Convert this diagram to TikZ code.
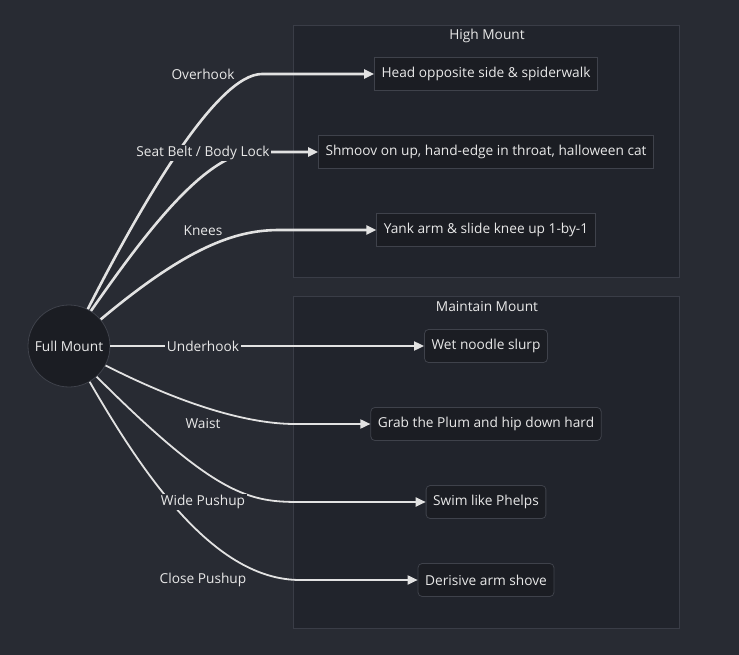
\documentclass[tikz,border=0pt]{standalone}
\usepackage{fontspec}
\setmainfont{Open Sans}
\usetikzlibrary{positioning}
\usetikzlibrary{arrows.meta}
\definecolor{canvas}{HTML}{282B33}
\definecolor{clusterbg}{HTML}{21242C}
\definecolor{clusterline}{HTML}{3A3D47}
\definecolor{boxbg}{HTML}{1B1D23}
\definecolor{boxline}{HTML}{3F424B}
\definecolor{wire}{HTML}{E2E2E2}
\definecolor{ink}{HTML}{E8E8E8}

\begin{document}
\begin{tikzpicture}[
                x=1pt, y=-1pt,
                >={Triangle[length=10pt,width=9pt]},
                font=\fontsize{13.7}{16}\selectfont,
                % Define styles for nodes
                cluster/.style={draw=clusterline, fill=clusterbg, line width=0.8pt},
                move/.style={draw=boxline, fill=boxbg, text=ink, inner xsep=7pt, minimum height=33pt, line width=0.8pt},
                keep/.style={move, rounded corners=4pt},
                hold/.style={circle, draw=boxline, fill=boxbg, text=ink, minimum size=82pt, inner sep=0pt, line width=0.8pt},
                grip/.style={fill=canvas, text=ink, inner sep=1.5pt},
                edge/.style={->, draw=wire, line width=2.6pt},
                thin edge/.style={->, draw=wire, line width=1.8pt}
            ]
                \useasboundingbox (0,0) rectangle (739,655);
                \fill[canvas] (0,0) rectangle (739,655);

                % Clusters
                \draw[cluster] (293,25) rectangle (679,277);
                \draw[cluster] (293,296) rectangle (679,628);
                \node[text=ink] (highT) at (487,36) {High Mount};
                \node[text=ink] (keepT) at (487,307) {Maintain Mount};

                % Define nodes
                \node[hold] (fm) at (69,346) {Full Mount};

                \node[move] (head) at (486,74) {Head opposite side \& spiderwalk};
                \node[move] (shmoov) at (486,152) {Shmoov on up, hand-edge in throat, halloween cat};
                \node[move] (yank) at (486,230) {Yank arm \& slide knee up 1-by-1};

                \node[keep] (noodle) at (486,346) {Wet noodle slurp};
                \node[keep] (plum) at (486,424) {Grab the Plum and hip down hard};
                \node[keep] (swim) at (486,502) {Swim like Phelps};
                \node[keep] (shove) at (486,580) {Derisive arm shove};

                % Bend points where the curves flatten out (y axis points down here)
                \coordinate (b1) at (262,74);
                \coordinate (b2) at (255,152);
                \coordinate (b3) at (280,230);
                \coordinate (b5) at (295,424);
                \coordinate (b6) at (300,502);
                \coordinate (b7) at (300,580);

                % Draw connections
                \draw[edge] (fm.63) .. controls +(-63:120) and +(-45,0) .. (b1) -- (head);
                \draw[edge] (fm.58) .. controls +(-55:90) and +(-50,0) .. (b2) -- (shmoov);
                \draw[edge] (fm.40) .. controls +(-40:120) and +(-40,0) .. (b3) -- (yank);
                \draw[thin edge] (fm) -- (noodle);
                \draw[thin edge] (fm.-28) .. controls +(27:90) and +(-45,0) .. (b5) -- (plum);
                \draw[thin edge] (fm.-48) .. controls +(45:170) and +(-50,0) .. (b6) -- (swim);
                \draw[thin edge] (fm.-60) .. controls +(60:110) and +(-85,0) .. (b7) -- (shove);

                % Edge labels
                \node[grip] (lOver) at (203,74) {Overhook};
                \node[grip] (lSeat) at (203,153) {Seat Belt / Body Lock};
                \node[grip] (lKnee) at (203,231) {Knees};
                \node[grip] (lUnder) at (203,346) {Underhook};
                \node[grip] (lWaist) at (203,424) {Waist};
                \node[grip] (lWide) at (203,502) {Wide Pushup};
                \node[grip] (lClose) at (203,580) {Close Pushup};
            \end{tikzpicture}
\end{document}
